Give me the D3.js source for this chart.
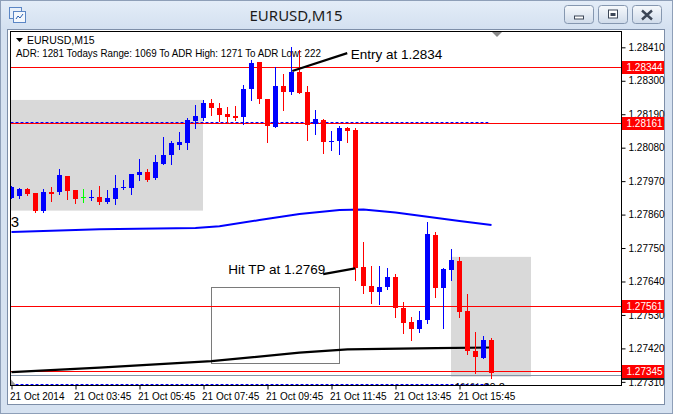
<!DOCTYPE html>
<html><head><meta charset="utf-8">
<script src="https://cdn.jsdelivr.net/npm/d3@7"></script>
<style>body{margin:0;background:#fff;} svg{display:block;}</style>
</head><body><svg id="c" width="673" height="414"></svg>
<script>
// ---------- DATA ----------
const barIndex = d3.range(61);
const opens  = [1.27916,1.27922,1.27944,1.27931,1.27872,1.27933,1.27934,1.27987,1.27940,1.27917,1.27914,1.27918,1.27901,1.27912,1.27946,1.27948,1.27990,1.28001,1.27980,1.28027,1.28056,1.28089,1.28095,1.28169,1.28178,1.28228,1.28211,1.28192,1.28185,1.28182,1.28272,1.28362,1.28239,1.28149,1.28283,1.28264,1.28328,1.28264,1.28157,1.28171,1.28100,1.28103,1.28146,1.28138,1.27688,1.27626,1.27606,1.27621,1.27655,1.27552,1.27507,1.27484,1.27513,1.27793,1.27619,1.27678,1.27707,1.27543,1.27411,1.27390,1.27447];
const highs  = [1.27954,1.27946,1.27946,1.27932,1.27944,1.27951,1.28010,1.27988,1.27941,1.27943,1.27941,1.27954,1.27941,1.27990,1.27974,1.27995,1.28043,1.28010,1.28056,1.28115,1.28101,1.28131,1.28178,1.28220,1.28237,1.28240,1.28228,1.28213,1.28217,1.28286,1.28368,1.28363,1.28240,1.28344,1.28322,1.28411,1.28400,1.28283,1.28204,1.28174,1.28135,1.28151,1.28149,1.28144,1.27769,1.27691,1.27691,1.27683,1.27664,1.27571,1.27524,1.27543,1.27834,1.27803,1.27683,1.27747,1.27721,1.27599,1.27473,1.27461,1.27453];
const lows   = [1.27914,1.27915,1.27924,1.27869,1.27870,1.27906,1.27927,1.27912,1.27899,1.27903,1.27908,1.27896,1.27899,1.27895,1.27944,1.27927,1.27974,1.27970,1.27976,1.28025,1.28027,1.28076,1.28076,1.28146,1.28172,1.28187,1.28169,1.28165,1.28171,1.28158,1.28237,1.28226,1.28100,1.28148,1.28204,1.28255,1.28260,1.28105,1.28125,1.28061,1.28072,1.28058,1.28099,1.27645,1.27601,1.27570,1.27566,1.27614,1.27522,1.27471,1.27447,1.27475,1.27502,1.27590,1.27488,1.27645,1.27522,1.27400,1.27338,1.27390,1.27323];
const closes = [1.27951,1.27944,1.27928,1.27872,1.27934,1.27927,1.27990,1.27937,1.27912,1.27917,1.27918,1.27901,1.27915,1.27948,1.27951,1.27993,1.28001,1.27974,1.28033,1.28056,1.28095,1.28098,1.28171,1.28184,1.28228,1.28209,1.28187,1.28181,1.28178,1.28272,1.28357,1.28239,1.28151,1.28284,1.28264,1.28330,1.28261,1.28154,1.28175,1.28100,1.28102,1.28146,1.28136,1.27683,1.27626,1.27606,1.27622,1.27655,1.27552,1.27504,1.27484,1.27515,1.27796,1.27619,1.27681,1.27710,1.27540,1.27412,1.27392,1.27447,1.27340];

const blueMAIdx  = [0, 11, 23, 26, 31, 36, 41, 44, 48, 52, 56, 60];
const blueMAVal  = [1.27803,1.27812,1.27816,1.27822,1.27842,1.27862,1.27875,1.27877,1.27867,1.27853,1.27839,1.27826];
const blackMAIdx = [0, 11, 25, 36, 42, 53, 60];
const blackMAVal = [1.27342,1.27357,1.27378,1.27406,1.27417,1.27421,1.27423];

const priceTicks = [1.28410,1.28300,1.28190,1.28080,1.27970,1.27860,1.27750,1.27640,1.27530,1.27420,1.27310];
const timeTickBars = [0,8,16,24,32,40,48,56];
const timeTickLabels = ["21 Oct 2014","21 Oct 03:45","21 Oct 05:45","21 Oct 07:45","21 Oct 09:45","21 Oct 11:45","21 Oct 13:45","21 Oct 15:45"];
const redLevels = [1.28344,1.28161,1.27561,1.27345];
const askLevel = 1.27335;
const blueDashLevels = [1.28166, 1.27302];

// ---------- SETUP ----------
const W = 673, H = 414;
const PL = 10.5, PR = 621.5, PT = 31.5, PB = 385.5;
const svg = d3.select("#c");
const x = d3.scaleLinear().domain([0, 60]).range([11.5, 491.5]);
const y = d3.scaleLinear().domain([1.27298, 1.28462]).range([PB, PT]);
const F = "'Liberation Sans', Arial, sans-serif";

const defs = svg.append("defs");
const tg = defs.append("linearGradient").attr("id","tb").attr("x1",0).attr("y1",0).attr("x2",0).attr("y2",1);
tg.append("stop").attr("offset","0%").attr("stop-color","#e4edf8");
tg.append("stop").attr("offset","100%").attr("stop-color","#d3e0f0");
const bg = defs.append("linearGradient").attr("id","btn").attr("x1",0).attr("y1",0).attr("x2",0).attr("y2",1);
bg.append("stop").attr("offset","0%").attr("stop-color","#f6f9fc");
bg.append("stop").attr("offset","50%").attr("stop-color","#e3eaf3");
bg.append("stop").attr("offset","100%").attr("stop-color","#cfdbea");
defs.append("clipPath").attr("id","plotclip").append("rect")
  .attr("x", PL+0.5).attr("y", PT+0.5).attr("width", PR-PL-1).attr("height", PB-PT-1);

// ---------- WINDOW CHROME ----------
svg.append("rect").attr("width",W).attr("height",H).attr("fill","#d6e2f1");
svg.append("rect").attr("width",W).attr("height",30).attr("fill","url(#tb)");
svg.append("rect").attr("x",0.5).attr("y",0.5).attr("width",W-1).attr("height",H-1)
  .attr("fill","none").attr("stroke","#8e9fb8");
// icon
const ic = svg.append("g").attr("transform","translate(9,7)");
ic.append("rect").attr("x",0.5).attr("y",0.5).attr("width",12).attr("height",11).attr("fill","#e8f0fa").attr("stroke","#5b86c5");
ic.append("rect").attr("x",4.5).attr("y",4.5).attr("width",12).attr("height",11).attr("fill","#f4f8fd").attr("stroke","#5b86c5");
ic.append("path").attr("d","M7,12 l2,-3 l2,2 l3,-4").attr("fill","none").attr("stroke","#2a5fb0");
svg.append("text").attr("x",296).attr("y",21).attr("text-anchor","middle")
  .attr("font-family","'Noto Sans', 'Open Sans', sans-serif").attr("font-size",15).attr("fill","#1b1b1b").text("EURUSD,M15");
// buttons
const btnX = [564, 598, 632];
btnX.forEach((bx,k)=>{
  svg.append("rect").attr("x",bx+0.5).attr("y",5.5).attr("width",29).attr("height",18).attr("rx",3)
    .attr("fill","url(#btn)").attr("stroke","#8597b0");
  const cx = bx+15, cy = 14.5;
  if (k===0) svg.append("rect").attr("x",cx-4.5).attr("y",cy+1.5).attr("width",9).attr("height",3).attr("fill","#fff").attr("stroke","#3c4656");
  if (k===1) { svg.append("rect").attr("x",cx-4.5).attr("y",cy-4.5).attr("width",9).attr("height",8).attr("fill","#fff").attr("stroke","#3c4656");
               svg.append("rect").attr("x",cx-2.5).attr("y",cy-1.5).attr("width",5).attr("height",3).attr("fill","#3c4656"); }
  if (k===2) svg.append("path").attr("d",`M${cx-5},${cy-4} L${cx+5},${cy+5} M${cx+5},${cy-4} L${cx-5},${cy+5}`)
    .attr("stroke","#3c4656").attr("stroke-width",2.4).attr("fill","none");
});
// client area
svg.append("rect").attr("x",7.5).attr("y",29.5).attr("width",657).attr("height",375)
  .attr("fill","#ffffff").attr("stroke","#7d8ea8");

// ---------- PLOT CONTENT ----------
const g = svg.append("g").attr("clip-path","url(#plotclip)");

// shaded boxes
const boxes = [
  {i0:-1.5, i1:23.94, p0:1.28237, p1:1.27873},
  {i0:54.94, i1:64.94, p0:1.27721, p1:1.27327}
];
g.selectAll("rect.box").data(boxes).join("rect").attr("class","box")
  .attr("x",d=>x(d.i0)).attr("y",d=>y(d.p0)).attr("width",d=>x(d.i1)-x(d.i0)).attr("height",d=>y(d.p1)-y(d.p0))
  .attr("fill","#d9d9d9");
const outline = {i0:24.94, i1:40.97, p0:1.27621, p1:1.27371};
g.append("rect").attr("x",Math.round(x(outline.i0))+0.5).attr("y",Math.round(y(outline.p0))+0.5)
  .attr("width",Math.round(x(outline.i1)-x(outline.i0))).attr("height",Math.round(y(outline.p1)-y(outline.p0)))
  .attr("fill","none").attr("stroke","#7a7a7a");

// horizontal levels
const ry = p => Math.round(y(p))+0.5;
g.selectAll("line.red").data(redLevels).join("line").attr("class","red")
  .attr("x1",PL).attr("x2",PR).attr("y1",ry).attr("y2",ry).attr("stroke","#ff0000");
g.append("line").attr("x1",PL).attr("x2",PR).attr("y1",ry(askLevel)+1).attr("y2",ry(askLevel)+1).attr("stroke","#8494a8");
g.selectAll("line.bd").data(blueDashLevels).join("line").attr("class","bd")
  .attr("x1",PL).attr("x2",x(59.6)).attr("y1",ry).attr("y2",ry)
  .attr("stroke","#0000ff").attr("stroke-dasharray","3,2");

// moving averages
const lineGen = d3.line().x(d=>x(d[0])).y(d=>y(d[1]));
g.append("path").datum(blueMAIdx.map((v,k)=>[v, blueMAVal[k]])).attr("d", lineGen)
  .attr("fill","none").attr("stroke","#0000ff").attr("stroke-width",2);
g.append("path").datum(blackMAIdx.map((v,k)=>[v, blackMAVal[k]])).attr("d", lineGen)
  .attr("fill","none").attr("stroke","#000000").attr("stroke-width",2.2);

// candles
const candles = barIndex.map(i=>({i, o:opens[i], h:highs[i], l:lows[i], c:closes[i]}));
const col = d => d.c > d.o ? "#0000ff" : (d.c < d.o ? "#ff0000" : "#00ff00");
const cg = g.selectAll("g.cd").data(candles).join("g").attr("class","cd");
cg.append("line").attr("x1",d=>Math.floor(x(d.i))+0.5).attr("x2",d=>Math.floor(x(d.i))+0.5)
  .attr("y1",d=>Math.round(y(d.h))).attr("y2",d=>Math.round(y(d.l))+1).attr("stroke",col);
cg.append("rect").attr("x",d=>Math.floor(x(d.i))-2).attr("width",5)
  .attr("y",d=>Math.round(y(Math.max(d.o,d.c))))
  .attr("height",d=>Math.max(1, Math.round(y(Math.min(d.o,d.c)))-Math.round(y(Math.max(d.o,d.c)))))
  .attr("fill",col);

// annotations
const annLines = [
  [[35.1,1.28332],[41.97,1.28391]],
  [[38.96,1.27664],[42.96,1.27683]]
];
g.selectAll("path.ann").data(annLines).join("path").attr("class","ann").attr("d",lineGen)
  .attr("fill","none").attr("stroke","#000").attr("stroke-width",2.2);
const annTexts = [
  {i:42.4, p:1.28388, t:"Entry at 1.2834"},
  {i:27.1, p:1.27680, t:"Hit TP at 1.2769"}
];
g.selectAll("text.ann").data(annTexts).join("text").attr("class","ann")
  .attr("x",d=>x(d.i)).attr("y",d=>y(d.p)+5).attr("font-family",F).attr("font-size",13.5).attr("fill","#000").text(d=>d.t);
g.append("text").attr("x",x(1)-0.5).attr("y",y(1.27819)).attr("text-anchor","end")
  .attr("font-family",F).attr("font-size",15).attr("fill","#000").text("1.3");
g.append("text").attr("x",x(55.4)).attr("y",y(1.27302)+7).attr("font-family",F).attr("font-size",11)
  .attr("fill","#000").text("1%% 20.2");

// header text
g.append("path").attr("d","M16,38 L23,38 L19.5,42 Z").attr("fill","#000");
g.append("text").attr("x",27).attr("y",44).attr("font-family",F).attr("font-size",10.5).attr("fill","#000").text("EURUSD,M15");
g.append("text").attr("x",16).attr("y",57).attr("font-family",F).attr("font-size",10.5).attr("fill","#000")
  .attr("textLength",305).attr("lengthAdjust","spacingAndGlyphs")
  .text("ADR: 1281  Todays Range: 1069  To ADR High: 1271  To ADR Low: 222");
// shift marker
g.append("path").attr("d","M492,32 L502,32 L497,37 Z").attr("fill","#8a8a8a");
g.append("path").attr("d",`M11,${PB-6} L11,${PB-0.5} L16,${PB-0.5} Z`).attr("fill","#9a9a9a");

// plot border
svg.append("rect").attr("x",PL).attr("y",PT).attr("width",PR-PL).attr("height",PB-PT)
  .attr("fill","none").attr("stroke","#000");

// ---------- AXES ----------
const ya = svg.append("g").attr("transform",`translate(${PR},0)`)
  .call(d3.axisRight(y).tickValues(priceTicks).tickSize(4).tickPadding(3).tickFormat(d3.format(".5f")));
ya.select(".domain").remove();
ya.selectAll("text").attr("font-family",F).attr("font-size",10).attr("fill","#000");
ya.selectAll("line").attr("stroke","#000");

const xa = svg.append("g").attr("transform",`translate(0,${PB})`)
  .call(d3.axisBottom(x).tickValues(timeTickBars).tickSize(4).tickPadding(3).tickFormat((d,k)=>timeTickLabels[k]));
xa.select(".domain").remove();
xa.selectAll("text").attr("font-family",F).attr("font-size",10).attr("fill","#000").attr("text-anchor","start").attr("dx",-2);
xa.selectAll("line").attr("stroke","#000");

// red price labels
const rl = svg.selectAll("g.rl").data(redLevels).join("g").attr("class","rl");
rl.append("rect").attr("x",PR+0.5).attr("y",d=>Math.round(y(d))-6).attr("width",42).attr("height",13).attr("fill","#ff0000");
rl.append("text").attr("x",PR+5).attr("y",d=>Math.round(y(d))+4).attr("font-family",F).attr("font-size",10)
  .attr("fill","#fff").text(d=>d3.format(".5f")(d));
svg.append("rect").attr("x",PR+0.5).attr("y",Math.round(y(redLevels[3]))+7).attr("width",42).attr("height",2).attr("fill","#222");
</script></body></html>
